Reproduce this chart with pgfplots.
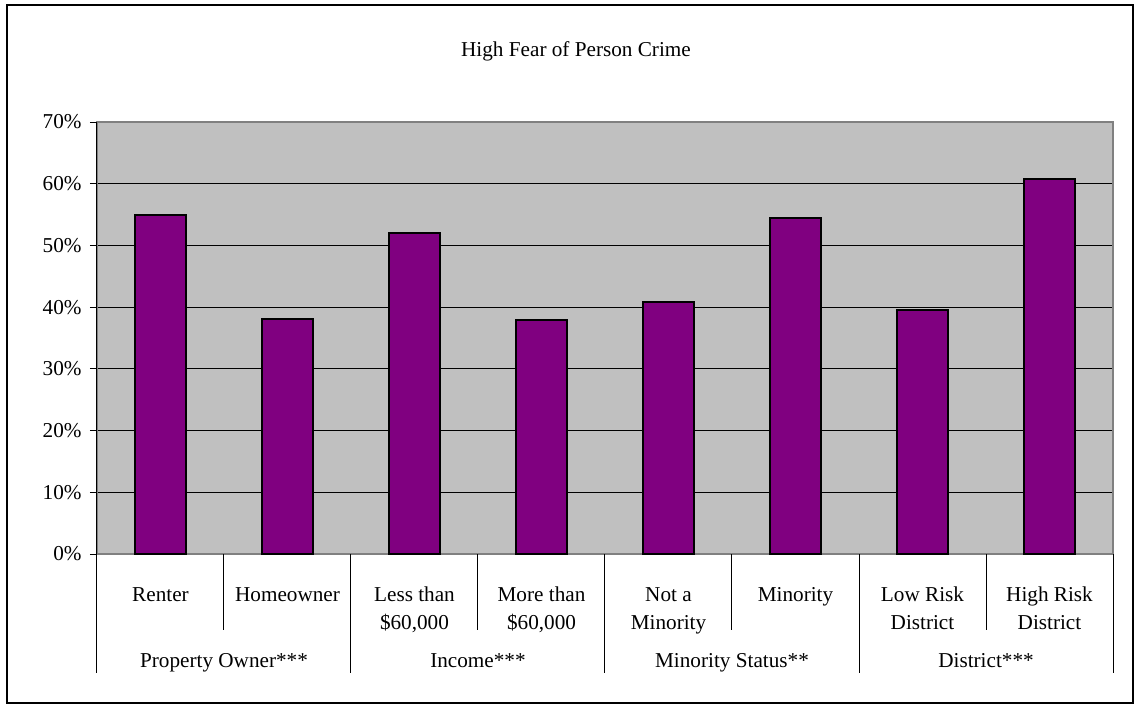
\documentclass[border=0pt]{standalone}
\usepackage{fontspec}
\setmainfont{Liberation Serif}
\usepackage{pgfplots}
\pgfplotsset{compat=1.18}
\definecolor{barpurple}{HTML}{800080}
\definecolor{plotgrey}{HTML}{C0C0C0}
\definecolor{framegrey}{HTML}{808080}
\newcommand{\chartfont}{\fontsize{10.6bp}{13.7bp}\selectfont}
\begin{document}
\chartfont
\begin{tikzpicture}[font=\chartfont]
\path[use as bounding box] (-48.5bp,-77bp) rectangle (521.5bp,277bp);
\draw[line width=1bp] (-45bp,-74.5bp) rectangle (518bp,274.5bp);
\node[anchor=base] at (239.5bp,248.5bp) {High Fear of Person Crime};
\begin{axis}[
  at={(0,0)}, anchor=south west,
  scale only axis, width=508bp, height=216bp,
  xmin=-0.5, xmax=7.5, ymin=0, ymax=70,
  clip=false,
  axis background/.style={fill=plotgrey},
  axis line style={framegrey, line width=1bp},
  ybar, bar width=25.5bp,
  xtick=data,
  xticklabels={{\strut Renter},{\strut Homeowner},{\strut Less than\\\strut\$60,000},{\strut More than\\\strut\$60,000},{\strut Not a\\\strut Minority},{\strut Minority},{\strut Low Risk\\\strut District},{\strut High Risk\\\strut District}},
  xtick style={draw=none},
  xticklabel style={align=center, anchor=north, inner sep=0pt, yshift=-10.7bp, font=\chartfont},
  ytick={0,10,20,30,40,50,60,70},
  yticklabel={\pgfmathprintnumber{\tick}\%},
  yticklabel style={anchor=east, inner sep=0pt, xshift=-4bp, font=\chartfont, /pgf/number format/assume math mode=true},
  ymajorgrids, grid style={black, line width=0.5bp},
  ytick style={black, line width=0.5bp},
  tick align=outside, major tick length=3.5bp,
  tick pos=left,
]
\addplot[fill=barpurple, draw=black, line width=1bp] coordinates {(0,55.0) (1,38.0) (2,52.0) (3,37.9) (4,40.8) (5,54.4) (6,39.5) (7,60.7)};
\draw[black, line width=0.5bp] (axis cs:-0.5,0) -- (axis cs:-0.5,70);
\pgfplotsinvokeforeach{0.5,2.5,4.5,6.5}{
  \draw[black, line width=0.5bp] (axis cs:#1,0) -- ([yshift=-38bp]axis cs:#1,0);
}
\pgfplotsinvokeforeach{-0.5,1.5,3.5,5.5,7.5}{
  \draw[black, line width=0.5bp] (axis cs:#1,0) -- ([yshift=-59.7bp]axis cs:#1,0);
}
\node[anchor=base] at ([yshift=-56.5bp]axis cs:0.5,0) {Property Owner***};
\node[anchor=base] at ([yshift=-56.5bp]axis cs:2.5,0) {Income***};
\node[anchor=base] at ([yshift=-56.5bp]axis cs:4.5,0) {Minority Status**};
\node[anchor=base] at ([yshift=-56.5bp]axis cs:6.5,0) {District***};
\end{axis}
\end{tikzpicture}
\end{document}
